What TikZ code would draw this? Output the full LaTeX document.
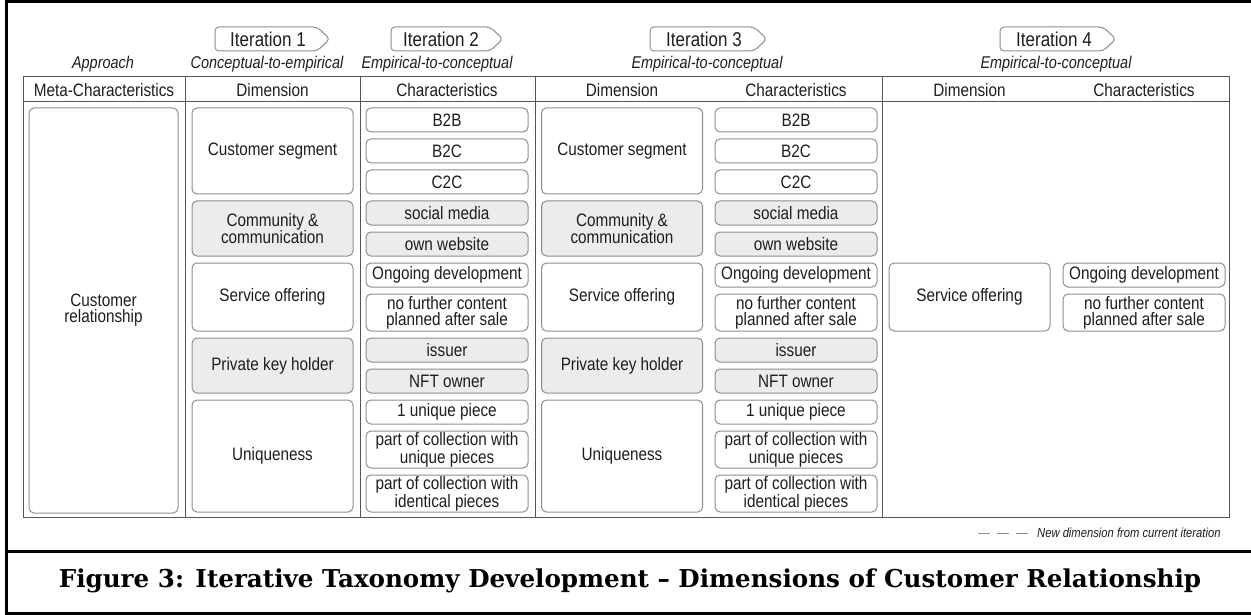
\documentclass[tikz,border=0pt]{standalone}
\usepackage{fontspec}
\setmainfont{Liberation Sans}
\newfontfamily\labfont[FakeStretch=0.85]{Liberation Sans}
\newfontfamily\capfont{DejaVu Serif}
\newcommand\bxfont{\labfont\fontsize{18}{16}\selectfont}
\newcommand\itfont{\labfont\itshape\fontsize{17}{17}\selectfont}
\newcommand\tgfont{\labfont\fontsize{20}{20}\selectfont}
\newcommand\lgfont{\labfont\itshape\fontsize{13.2}{13}\selectfont}
\newcommand\cpfont{\capfont\bfseries\fontsize{24.6}{24.6}\selectfont}
\definecolor{bxc}{HTML}{8E8E8E}
\definecolor{tlc}{HTML}{555555}
\definecolor{txc}{HTML}{1E1E1E}
\definecolor{gfill}{HTML}{ECECEC}
\begin{document}
\begin{tikzpicture}[x=1pt,y=-1pt,
  bxs/.style={draw=bxc, line width=1pt, rounded corners=5pt, fill=white, text=txc, align=center, inner sep=0pt, font=\bxfont},
  gbx/.style={bxs, fill=gfill},
  dimw/.style={minimum width=161pt},
  chw/.style={minimum width=162pt},
  hdr/.style={text=txc, font=\bxfont, inner sep=0pt},
  ital/.style={text=txc, font=\itfont, inner sep=0pt},
  tline/.style={draw=tlc, line width=1pt},
  tagline/.style={draw=bxc, line width=1pt, rounded corners=4pt, fill=white},
  tagtext/.style={text=txc, font=\tgfont, inner sep=0pt},
  frame/.style={draw=black, line width=3pt}]
\useasboundingbox (0,0) rectangle (1251,615);
\fill[white] (0,0) rectangle (1251,615);

% outer frame and caption separator
\draw[frame] (1251,1.5) -- (6.5,1.5) -- (6.5,613.5) -- (1251,613.5);
\draw[frame] (6.5,551) -- (1251,551);

% iteration tags
\draw[tagline] (215,27) -- (317,27) -- (330,39) -- (317,51) -- (215,51) -- cycle;
\node[tagtext] (it1) at (268,39) {Iteration 1};
\draw[tagline] (391,27) -- (490,27) -- (503,39) -- (490,51) -- (391,51) -- cycle;
\node[tagtext] (it2) at (441,39) {Iteration 2};
\draw[tagline] (650,27) -- (754,27) -- (767,39) -- (754,51) -- (650,51) -- cycle;
\node[tagtext] (it3) at (704,39) {Iteration 3};
\draw[tagline] (1000,27) -- (1103,27) -- (1116,39) -- (1103,51) -- (1000,51) -- cycle;
\node[tagtext] (it4) at (1054,39) {Iteration 4};

% approach row
\node[ital] (ap0) at (103,64) {Approach};
\node[ital] (ap1) at (267,64) {Conceptual-to-empirical};
\node[ital] (ap2) at (437,64) {Empirical-to-conceptual};
\node[ital] (ap3) at (707,64) {Empirical-to-conceptual};
\node[ital] (ap4) at (1056,64) {Empirical-to-conceptual};

% table
\draw[tline] (23,77) rectangle (1229,517);
\draw[tline] (23,102) -- (1229,102);
\foreach \xx in {185,360,535,882} \draw[tline] (\xx,77) -- (\xx,517);

% header
\node[hdr] (h0) at (104,90) {Meta-Characteristics};
\node[hdr] (h1) at (272.5,90) {Dimension};
\node[hdr] (h2) at (447,90) {Characteristics};
\node[hdr] (h3) at (622,90) {Dimension};
\node[hdr] (h4) at (796,90) {Characteristics};
\node[hdr] (h5) at (969.5,90) {Dimension};
\node[hdr] (h6) at (1144,90) {Characteristics};

% meta characteristic
\node[bxs, minimum width=149pt, minimum height=405pt] (meta) at (103.5,310.5) {Customer\\relationship};

% iteration 1 dimensions
\node[bxs, dimw, minimum height=86pt] (d1cs) at (272.5,151) {Customer segment};
\node[gbx, dimw, minimum height=55pt] (d1cc) at (272.5,228.5) {Community \&\\communication};
\node[bxs, dimw, minimum height=68pt] (d1so) at (272.5,297) {Service offering};
\node[gbx, dimw, minimum height=55pt] (d1pk) at (272.5,365.5) {Private key holder};
\node[bxs, dimw, minimum height=112pt] (d1uq) at (272.5,456) {Uniqueness};

% iteration 2 characteristics
\node[bxs, chw, minimum height=24pt] (c2a) at (447,120) {B2B};
\node[bxs, chw, minimum height=24pt] (c2b) at (447,151) {B2C};
\node[bxs, chw, minimum height=24pt] (c2c) at (447,182) {C2C};
\node[gbx, chw, minimum height=24pt] (c2d) at (447,213) {social media};
\node[gbx, chw, minimum height=24pt] (c2e) at (447,244) {own website};
\node[bxs, chw, minimum height=24pt] (c2f) at (447,275) {Ongoing development};
\node[bxs, chw, minimum height=37pt] (c2g) at (447,312.5) {no further content\\planned after sale};
\node[gbx, chw, minimum height=24pt] (c2h) at (447,350) {issuer};
\node[gbx, chw, minimum height=24pt] (c2i) at (447,381) {NFT owner};
\node[bxs, chw, minimum height=24pt] (c2j) at (447,412) {1 unique piece};
\node[bxs, chw, minimum height=37pt] (c2k) at (447,449.5) {part of collection with\\unique pieces};
\node[bxs, chw, minimum height=37pt] (c2l) at (447,493.5) {part of collection with\\identical pieces};

% iteration 3 dimensions
\node[bxs, dimw, minimum height=86pt] (d3cs) at (622,151) {Customer segment};
\node[gbx, dimw, minimum height=55pt] (d3cc) at (622,228.5) {Community \&\\communication};
\node[bxs, dimw, minimum height=68pt] (d3so) at (622,297) {Service offering};
\node[gbx, dimw, minimum height=55pt] (d3pk) at (622,365.5) {Private key holder};
\node[bxs, dimw, minimum height=112pt] (d3uq) at (622,456) {Uniqueness};

% iteration 3 characteristics
\node[bxs, chw, minimum height=24pt] (c3a) at (796,120) {B2B};
\node[bxs, chw, minimum height=24pt] (c3b) at (796,151) {B2C};
\node[bxs, chw, minimum height=24pt] (c3c) at (796,182) {C2C};
\node[gbx, chw, minimum height=24pt] (c3d) at (796,213) {social media};
\node[gbx, chw, minimum height=24pt] (c3e) at (796,244) {own website};
\node[bxs, chw, minimum height=24pt] (c3f) at (796,275) {Ongoing development};
\node[bxs, chw, minimum height=37pt] (c3g) at (796,312.5) {no further content\\planned after sale};
\node[gbx, chw, minimum height=24pt] (c3h) at (796,350) {issuer};
\node[gbx, chw, minimum height=24pt] (c3i) at (796,381) {NFT owner};
\node[bxs, chw, minimum height=24pt] (c3j) at (796,412) {1 unique piece};
\node[bxs, chw, minimum height=37pt] (c3k) at (796,449.5) {part of collection with\\unique pieces};
\node[bxs, chw, minimum height=37pt] (c3l) at (796,493.5) {part of collection with\\identical pieces};

% iteration 4
\node[bxs, dimw, minimum height=68pt] (d4so) at (969.5,297) {Service offering};
\node[bxs, chw, minimum height=24pt] (c4f) at (1144,275) {Ongoing development};
\node[bxs, chw, minimum height=37pt] (c4g) at (1144,312.5) {no further content\\planned after sale};

% legend
\coordinate (lg1) at (978,533);
\coordinate (lg2) at (1028,533);
\draw[draw=bxc, line width=1pt, dash pattern=on 12pt off 7pt] (lg1) -- (lg2);
\node[text=txc, font=\lgfont, inner sep=0pt, anchor=west] (lgt) at (1037,533) {New dimension from current iteration};

% caption
\node[text=black, font=\cpfont, inner sep=0pt] (cap) at (630,581) {Figure 3: Iterative Taxonomy Development – Dimensions of Customer Relationship};
\end{tikzpicture}
\end{document}
